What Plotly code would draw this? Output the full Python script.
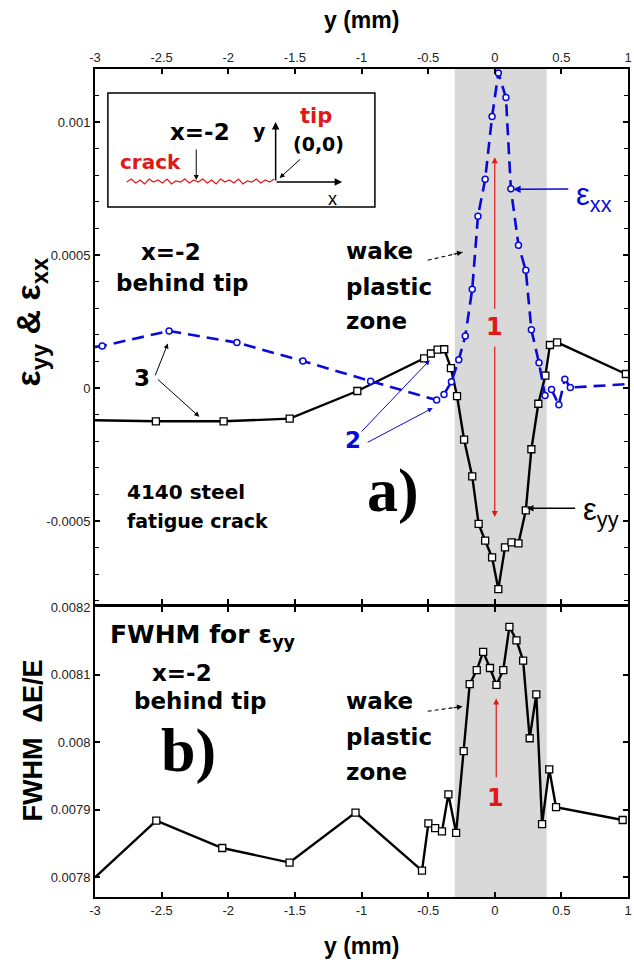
import plotly.graph_objects as go

# ---------------- data ----------------
exx_pos = [-3.0, -2.946, -2.444, -1.935, -1.44, -0.932, -0.436, -0.381, -0.325, -0.27,
           -0.221, -0.169, -0.126, -0.072, -0.02, 0.027, 0.084, 0.121, 0.178, 0.233,
           0.275, 0.332, 0.377, 0.426, 0.481, 0.526, 0.567, 1.0]
exx_val = [0.000155, 0.000158, 0.000215, 0.000171, 0.000102, 0.000026, -0.000045, -0.000024,
           0.000024, 0.000107, 0.000196, 0.000372, 0.000646, 0.000785, 0.001021, 0.001185,
           0.001093, 0.00075, 0.000537, 0.000443, 0.000219, 0.000095, -0.000028, -0.000005,
           -0.000063, 0.000033, 0.000002, 0.000015]

eyy_pos = [-3.0, -2.543, -2.035, -1.539, -1.031, -0.53, -0.479, -0.429, -0.379, -0.329,
           -0.283, -0.23, -0.169, -0.121, -0.072, -0.02, 0.027, 0.077, 0.126, 0.178,
           0.233, 0.275, 0.327, 0.38, 0.414, 0.468, 0.984]
eyy_val = [-0.000121, -0.000125, -0.000125, -0.000115, -0.000011, 0.000112, 0.00013, 0.000145,
           0.000146, 0.000075, -0.00003, -0.000194, -0.000332, -0.000511, -0.000574, -0.000637,
           -0.000756, -0.000599, -0.00058, -0.000584, -0.00046, -0.00023, -0.000059, 0.000047,
           0.000162, 0.000172, 0.000053]

fwhm_pos = [-3.0, -2.54, -2.045, -1.54, -1.045, -0.546, -0.498, -0.447, -0.396, -0.348,
            -0.29, -0.233, -0.188, -0.135, -0.087, -0.036, 0.013, 0.064, 0.11, 0.163,
            0.213, 0.262, 0.312, 0.355, 0.409, 0.46, 0.96]
fwhm_val = [0.0078, 0.007884, 0.0078435, 0.007822, 0.007896, 0.00781, 0.00788, 0.007873,
            0.007868, 0.007923, 0.007866, 0.007987, 0.008086, 0.008107, 0.008134, 0.00811,
            0.008085, 0.008107, 0.008171, 0.008151, 0.008121, 0.008006, 0.008071, 0.007879,
            0.00796, 0.007904, 0.007885]

x_ticks = [-3, -2.5, -2, -1.5, -1, -0.5, 0, 0.5, 1]
x_tick_labels = ["-3", "-2.5", "-2", "-1.5", "-1", "-0.5", "0", "0.5", "1"]
top_ticks = [-0.0005, 0, 0.0005, 0.001]
top_tick_labels = ["-0.0005", "0", "0.0005", "0.001"]
bot_ticks = [0.0078, 0.0079, 0.008, 0.0081, 0.0082]
bot_tick_labels = ["0.0078", "0.0079", "0.008", "0.0081", "0.0082"]
band = [-0.3, 0.39]

# ---------------- geometry ----------------
W, H = 634, 965
L, R, T, B = 95, 2, 69, 68
PW, PH = W - L - R, H - T - B


def px(X):
    return (X - L) / PW


def py(Y):
    return (H - B - Y) / PH


SANS = "Liberation Sans, Arial, sans-serif"
WIDE = "DejaVu Sans, Verdana, sans-serif"
SERIF = "Liberation Serif, Times New Roman, serif"
BLUE = "#0a0ad8"
RED = "#e01818"

fig = go.Figure()

# top panel curves
fig.add_trace(go.Scatter(x=eyy_pos, y=eyy_val, mode="lines", xaxis="x", yaxis="y",
                         line=dict(color="black", width=2.4), showlegend=False))
fig.add_trace(go.Scatter(x=eyy_pos[1:], y=eyy_val[1:], mode="markers", xaxis="x", yaxis="y",
                         marker=dict(symbol="square", size=7, color="white",
                                     line=dict(color="black", width=1.3)), showlegend=False))
fig.add_trace(go.Scatter(x=exx_pos, y=exx_val, mode="lines", xaxis="x", yaxis="y",
                         line=dict(color=BLUE, width=2.6, dash="12px,7px"), showlegend=False))
fig.add_trace(go.Scatter(x=exx_pos[1:-1], y=exx_val[1:-1], mode="markers", xaxis="x", yaxis="y",
                         marker=dict(symbol="circle", size=6, color="white",
                                     line=dict(color=BLUE, width=1.5)), showlegend=False))
# bottom panel
fig.add_trace(go.Scatter(x=fwhm_pos, y=fwhm_val, mode="lines", xaxis="x2", yaxis="y2",
                         line=dict(color="black", width=2.4), showlegend=False))
fig.add_trace(go.Scatter(x=fwhm_pos[1:], y=fwhm_val[1:], mode="markers", xaxis="x2", yaxis="y2",
                         marker=dict(symbol="square", size=7, color="white",
                                     line=dict(color="black", width=1.3)), showlegend=False))

axis_common = dict(showline=True, linecolor="black", linewidth=2, mirror="ticks",
                   ticks="inside", ticklen=5, tickwidth=1.5, tickcolor="black",
                   showgrid=False, zeroline=False,
                   tickfont=dict(family=SANS, size=13, color="#222"))

fig.update_layout(
    width=W, height=H, margin=dict(l=L, r=R, t=T, b=B),
    paper_bgcolor="white", plot_bgcolor="white",
    xaxis=dict(domain=[0, 1], anchor="y", side="top", range=[-3, 1],
               tickvals=x_ticks, ticktext=x_tick_labels, **axis_common),
    yaxis=dict(domain=[py(604), 1], anchor="x", range=[-0.000812, 0.0012],
               tickvals=top_ticks, ticktext=top_tick_labels,
               minor=dict(dtick=0.0001, tick0=0, ticks="inside", ticklen=4,
                          tickwidth=1.2, tickcolor="black"),
               **axis_common),
    xaxis2=dict(domain=[0, 1], anchor="y2", range=[-3, 1],
                tickvals=x_ticks, ticktext=x_tick_labels, **axis_common),
    yaxis2=dict(domain=[0, py(607)], anchor="x2", range=[0.007771, 0.0082003],
                tickvals=bot_ticks, ticktext=bot_tick_labels, **axis_common),
)

# gray wake plastic zone bands
for xr, yr in (("x", "y domain"), ("x2", "y2 domain")):
    fig.add_shape(type="rect", xref=xr, yref=yr, x0=band[0], x1=band[1], y0=0, y1=1,
                  fillcolor="#d9d9d9", line=dict(width=0), layer="below")


def text(s, X, Y, size=23, color="black", xanchor="center", family=WIDE, angle=0):
    fig.add_annotation(text=s, x=px(X), y=py(Y), xref="paper", yref="paper",
                       xanchor=xanchor, yanchor="middle", showarrow=False, textangle=angle,
                       font=dict(family=family, size=size, color=color))


def arrow(x0, y0, x1, y1, xr, yr, color="black", width=1.0, head=2, size=1.0):
    fig.add_annotation(x=x1, y=y1, ax=x0, ay=y0, xref=xr, yref=yr, axref=xr, ayref=yr,
                       text="", showarrow=True, arrowhead=head, arrowsize=size,
                       arrowwidth=width, arrowcolor=color)


def dashed_arrow(x0, y0, x1, y1, xr, yr, color="black", width=1.1):
    fig.add_shape(type="line", xref=xr, yref=yr, x0=x0, y0=y0, x1=x1, y1=y1,
                  line=dict(color=color, width=width, dash="4px,3px"))
    arrow(x1 - (x1 - x0) * 0.3, y1 - (y1 - y0) * 0.3, x1, y1, xr, yr, color, width)


def pix_arrow(X0, Y0, X1, Y1, color="black", width=1.2, head=2, size=1.0):
    fig.add_annotation(x=px(X1), y=py(Y1), xref="paper", yref="paper",
                       ax=X0 - X1, ay=Y0 - Y1, text="", showarrow=True, arrowhead=head,
                       arrowsize=size, arrowwidth=width, arrowcolor=color)


# axis titles
text("<b>y (mm)</b>", 364, 20, size=23, family=SANS)
text("<b>y (mm)</b>", 364, 946, size=23, family=SANS)
text("<b>ε<sub>yy</sub> &amp; ε<sub>xx</sub></b>", 30, 322, size=34, family=SANS, angle=-90)
text("<b>FWHM  ΔE/E</b>", 33, 740, size=27, family=SANS, angle=-90)

# inset sketch
fig.add_shape(type="rect", xref="paper", yref="paper", x0=px(108), x1=px(377),
              y0=py(207), y1=py(93), line=dict(color="black", width=1.5), fillcolor="white")
wig = [0, -3, 1, -2, 2, -3, 0, -2, 1, -3, 2, -1, 0, -3, 1, -2]
pts = []
Xc = 127
i = 0
while Xc <= 277:
    pts.append((Xc, 182 + wig[i % len(wig)]))
    Xc += 4.5
    i += 1
path = "M " + " L ".join(f"{px(a):.5f},{py(b):.5f}" for a, b in pts)
fig.add_shape(type="path", xref="paper", yref="paper", path=path,
              line=dict(color=RED, width=1.2))
text("<b>x=-2</b>", 201, 132, size=23)
text("<b>crack</b>", 151, 162, size=20, color=RED)
text("<b>y</b>", 261, 131, size=19)
text("<b>tip</b>", 318, 116, size=21, color=RED)
text("<b>(0,0)</b>", 320, 144, size=19)
text("x", 334, 199, size=18, family=SANS)
pix_arrow(197, 148, 197, 180, width=1.0, head=2)
pix_arrow(277, 182, 277, 122, width=1.5, head=2)
pix_arrow(277, 182, 344, 182, width=1.5, head=2)
pix_arrow(303, 158, 281, 178, width=1.0, head=2)

# top panel annotations
text("<b>x=-2</b>", 172, 252, size=23)
text("<b>behind tip</b>", 183, 283, size=23)
text("<b>wake</b>", 346, 251, size=23, xanchor="left")
text("<b>plastic</b>", 346, 287, size=23, xanchor="left")
text("<b>zone</b>", 346, 321, size=23, xanchor="left")
text("<b>4140 steel</b>", 125, 492, size=20, xanchor="left")
text("<b>fatigue crack</b>", 125, 521, size=19, xanchor="left")
text("<b>a)</b>", 395, 490, size=62, family=SERIF)
text("<b>3</b>", 142, 378, size=23)
text("<b>2</b>", 355, 440, size=23, color=BLUE)
text("ε<sub>xx</sub>", 578, 197, size=31, color=BLUE, xanchor="left", family=SANS)
text("ε<sub>yy</sub>", 585, 512, size=31, xanchor="left", family=SANS)
text("<b>1</b>", 497.5, 327, size=24, color=RED)

dashed_arrow(-0.503, 0.000481, -0.242, 0.000511, "x", "y")
arrow(0.563, 0.000749, 0.138, 0.000748, "x", "y", color=BLUE, width=1.5)
arrow(0.615, -0.000452, 0.242, -0.000452, "x", "y", width=1.3)
arrow(0.0, 0.000293, 0.0, 0.000868, "x", "y", color=RED, width=1.2)
arrow(0.0, 0.000162, 0.0, -0.000485, "x", "y", color=RED, width=1.2)
arrow(-2.552, 0.0000425, -2.453, 0.000168, "x", "y", width=1.0)
arrow(-2.539, 0.0000376, -2.217, -0.000108, "x", "y", width=1.0)
arrow(-1.01, -0.000169, -0.488, 0.000105, "x", "y", color=BLUE, width=1.0)
arrow(-0.965, -0.000207, -0.466, -0.000075, "x", "y", color=BLUE, width=1.0)

# bottom panel annotations
text("<b>FWHM for ε<sub>yy</sub></b>", 108, 636, size=25, xanchor="left")
text("<b>x=-2</b>", 183, 673, size=23)
text("<b>behind tip</b>", 201, 701, size=23)
text("<b>b)</b>", 189, 750, size=62, family=SERIF)
text("<b>wake</b>", 346, 701, size=23, xanchor="left")
text("<b>plastic</b>", 346, 737, size=23, xanchor="left")
text("<b>zone</b>", 346, 772, size=23, xanchor="left")
text("<b>1</b>", 499, 798, size=24, color=RED)
dashed_arrow(-0.503, 0.008046, -0.242, 0.008053, "x2", "y2")
arrow(0.011, 0.007946, 0.011, 0.008065, "x2", "y2", color=RED, width=1.2)

fig.write_html("out.html", config={"displayModeBar": False},
               post_script="document.body.style.margin='0';")
